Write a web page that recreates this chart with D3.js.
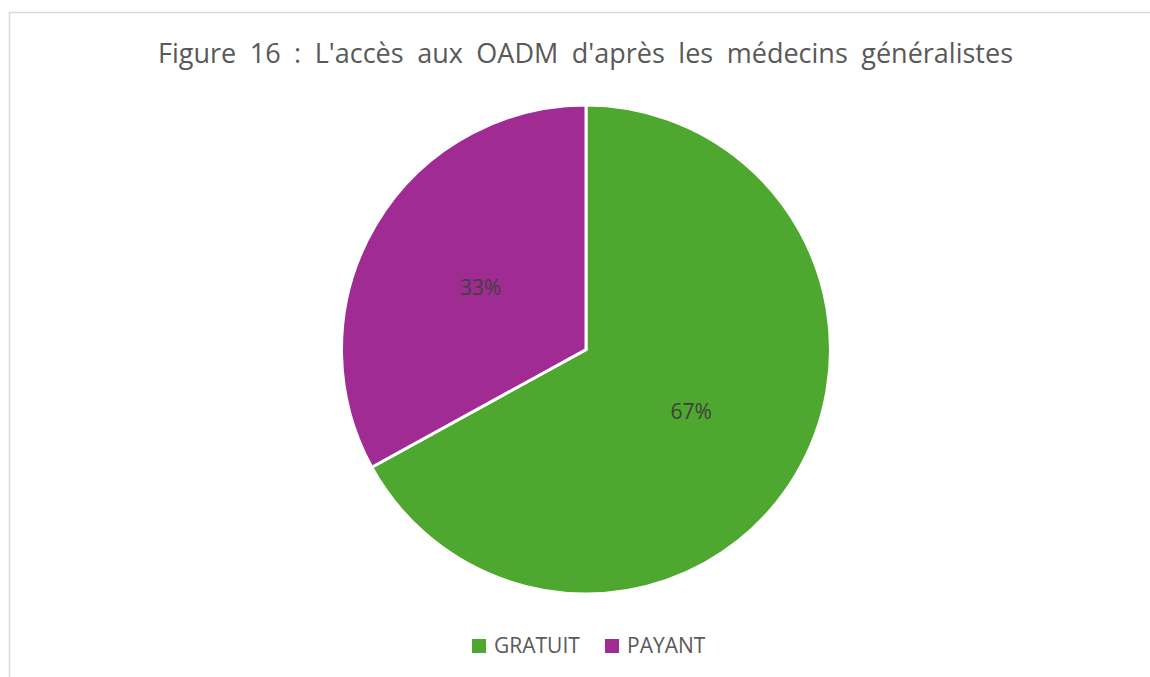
<!DOCTYPE html>
<html><head><meta charset="utf-8">
<script src="https://cdn.jsdelivr.net/npm/d3@7"></script>
<style>body{margin:0;background:#fff}svg{display:block}</style>
</head><body>
<svg id="c" width="1150" height="677"></svg>
<script>
const title = "Figure 16 : L'accès aux OADM d'après les médecins généralistes";
const categories = ["GRATUIT", "PAYANT"];
const values = [67, 33];
const colors = ["#4ea72e", "#a02b93"];

const svg = d3.select("#c");
const W = 1150, H = 677;
const font = "'Open Sans', 'Noto Sans', sans-serif";

// chart border
svg.append("rect").attr("x", 9.5).attr("y", 12.5).attr("width", W).attr("height", H)
  .attr("fill", "#fff").attr("stroke", "#d9d9d9").attr("stroke-width", 1.5);

// title
const t = svg.append("text").attr("x", 585.5).attr("y", 63)
  .attr("text-anchor", "middle").attr("font-family", font).attr("font-size", 27)
  .attr("fill", "#595959").text(title);
const tw = t.node().getComputedTextLength();
const nSpaces = title.split(" ").length - 1;
t.attr("word-spacing", Math.max(0, (855 - tw) / nSpaces));

// pie
const cx = 586, cy = 349.5, r = 244.5;
const pie = d3.pie().sort(null).value(d => d.v);
const data = pie(categories.map((c, i) => ({c, v: values[i], col: colors[i]})));
const arc = d3.arc().innerRadius(0).outerRadius(r);
const g = svg.append("g").attr("transform", `translate(${cx},${cy})`);
g.selectAll("path").data(data).join("path")
  .attr("d", arc).attr("fill", d => d.data.col)
  .attr("stroke", "#fff").attr("stroke-width", 3).attr("stroke-linejoin", "miter");

const labelArc = d3.arc().innerRadius(0).outerRadius(r);
g.selectAll("text.lbl").data(data).join("text").attr("class", "lbl")
  .attr("transform", d => `translate(${labelArc.centroid(d)})`)
  .attr("text-anchor", "middle").attr("dy", "0.36em")
  .attr("font-family", font).attr("font-size", 21).attr("fill", "#404040")
  .text(d => d3.format(".0%")(d.data.v / d3.sum(values)));

// legend
const legX = [472, 605];
const lg = svg.append("g");
categories.forEach((c, i) => {
  lg.append("rect").attr("x", legX[i]).attr("y", 639).attr("width", 14).attr("height", 14)
    .attr("fill", colors[i]);
  lg.append("text").attr("x", legX[i] + 22).attr("y", 652.5)
    .attr("font-family", font).attr("font-size", 21).attr("fill", "#595959").text(c);
});
</script>
</body></html>
